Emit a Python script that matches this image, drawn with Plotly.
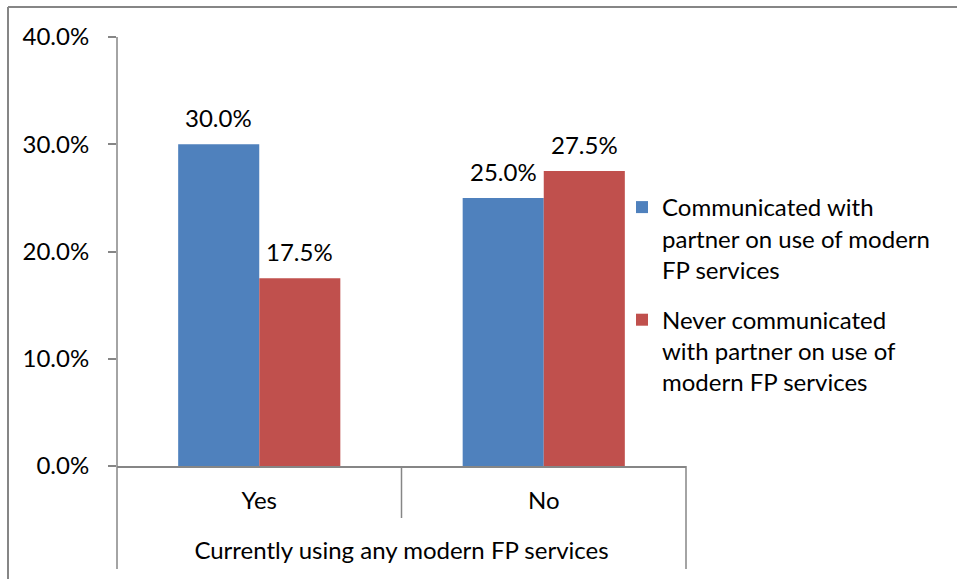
import plotly.graph_objects as go

# Data
categories = ["Yes", "No"]
communicated = [30.0, 25.0]
never_communicated = [17.5, 27.5]
series_names = [
    "Communicated with<br>partner on use of modern<br>FP services",
    "Never communicated<br>with partner on use of<br>modern FP services",
]
y_ticks = [0, 10, 20, 30, 40]
x_title = "Currently using any modern FP services"

BLUE = "#4F81BD"
RED = "#C0504D"
GRAY = "#868686"
FONT = "Lato"
FS = 24

# Canvas / plot-area geometry in pixels
W, H = 957, 579
PL, PR, PT, PB = 117, 686, 37, 466
BAR_W = 0.285


def px_x(px):
    return (px - PL) / (PR - PL)


def px_y(py):
    return (PB - py) / (PB - PT)


fig = go.Figure()
fig.add_trace(go.Bar(
    x=categories, y=communicated, name=series_names[0],
    marker=dict(color=BLUE, line=dict(width=0)),
    width=BAR_W, offset=-BAR_W, legendgroup="a",
))
fig.add_trace(go.Bar(
    x=categories, y=never_communicated, name=series_names[1],
    marker=dict(color=RED, line=dict(width=0)),
    width=BAR_W, offset=0, legendgroup="b",
))

# Value labels above bars
annotations = []
for i, (a, b) in enumerate(zip(communicated, never_communicated)):
    for val, dx in ((a, -BAR_W / 2), (b, BAR_W / 2)):
        annotations.append(dict(
            x=i + dx, y=val, xref="x", yref="y",
            text=f"{val:.1f}%", showarrow=False,
            yanchor="bottom", yshift=10,
            font=dict(family=FONT, size=FS, color="black"),
        ))

line = dict(color=GRAY, width=1.5)
shapes = [
    # chart frame (top and left edges)
    dict(type="line", xref="paper", yref="paper", x0=px_x(8), x1=px_x(W + 5),
         y0=px_y(7), y1=px_y(7), line=dict(color=GRAY, width=2)),
    dict(type="line", xref="paper", yref="paper", x0=px_x(8), x1=px_x(8),
         y0=px_y(7), y1=px_y(H + 5), line=dict(color=GRAY, width=2)),
    # value axis, extended down through the category area
    dict(type="line", xref="paper", yref="paper", x0=0, x1=0,
         y0=1, y1=px_y(569), line=line),
    # category dividers
    dict(type="line", xref="paper", yref="paper", x0=0.5, x1=0.5,
         y0=0, y1=px_y(518), line=line),
    dict(type="line", xref="paper", yref="paper", x0=1, x1=1,
         y0=0, y1=px_y(569), line=line),
]

fig.update_layout(
    width=W, height=H,
    margin=dict(l=PL, r=W - PR, t=PT, b=H - PB),
    paper_bgcolor="white", plot_bgcolor="white",
    font=dict(family=FONT, size=FS, color="black"),
    barmode="group",
    showlegend=True,
    legend=dict(
        x=px_x(622), y=px_y(185), xanchor="left", yanchor="top",
        traceorder="grouped", tracegroupgap=16, valign="top",
        font=dict(family=FONT, size=FS, color="black"),
        bgcolor="rgba(0,0,0,0)",
    ),
    xaxis=dict(
        range=[-0.5, 1.5], showgrid=False, zeroline=False,
        showline=True, linecolor=GRAY, linewidth=1.5,
        ticks="", ticklabelstandoff=12,
        title=dict(text=x_title, standoff=30,
                   font=dict(family=FONT, size=FS, color="black")),
    ),
    yaxis=dict(
        range=[0, 40], tickvals=y_ticks,
        ticktext=[f"{v:.1f}%" for v in y_ticks],
        showgrid=False, zeroline=False, showline=False,
        ticks="outside", ticklen=8, tickcolor=GRAY, tickwidth=1.5,
        ticklabelstandoff=14,
    ),
    shapes=shapes,
    annotations=annotations,
)

fig.write_html("out.html")
